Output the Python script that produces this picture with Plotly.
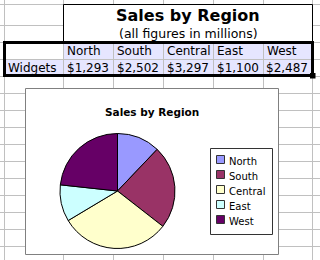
import plotly.graph_objects as go

# ---- data ----
regions = ["North", "South", "Central", "East", "West"]
sales = [1293, 2502, 3297, 1100, 2487]
row_label = "Widgets"
sheet_title = "Sales by Region"
sheet_subtitle = "(all figures in millions)"
chart_title = "Sales by Region"
colors = ["#9999FF", "#993366", "#FFFFCC", "#CCFFFF", "#660066"]

W, H = 320, 260
FONT = "DejaVu Sans"
GRID = "#C0C0C0"
LAV = "#E6E6FF"


def X(p):
    return p / W


def Y(p):
    return 1 - p / H


shapes = []


def line(x0, y0, x1, y1, color=GRID, width=1):
    shapes.append(dict(type="line", xref="paper", yref="paper",
                       x0=X(x0), y0=Y(y0), x1=X(x1), y1=Y(y1),
                       line=dict(color=color, width=width), layer="below"))


def rect(x0, y0, x1, y1, fill=None, color=None, width=0):
    d = dict(type="rect", xref="paper", yref="paper",
             x0=X(x0), y0=Y(y0), x1=X(x1), y1=Y(y1), layer="below",
             line=dict(width=width, color=color or "rgba(0,0,0,0)"))
    if fill:
        d["fillcolor"] = fill
    shapes.append(d)


col_edges = [4, 63, 113, 163, 213, 263, 312]
row_edges = [4, 25] + list(range(42, 262, 17))

# spreadsheet gridlines
for c in col_edges:
    line(c + 0.5, 0, c + 0.5, H)
for r in row_edges:
    line(0, r + 0.5, W, r + 0.5)

# merged title block
rect(64, 5, 312, 42, fill="white")
line(63.5, 4.5, 312.5, 4.5, "black")
line(63.5, 4.5, 63.5, 42.5, "black")
line(312.5, 4.5, 312.5, 42.5, "black")

# table fills
rect(63.5, 42.5, 312.5, 59.5, fill=LAV)
rect(4.5, 59.5, 312.5, 75.5, fill=LAV)
for c in col_edges[1:-1]:
    line(c + 0.5, 42.5, c + 0.5, 75.5)
line(4.5, 59.5, 312.5, 59.5)
# thick border
rect(4.5, 42.5, 312.5, 75.5, color="black", width=3)
rect(310, 73, 315.5, 78.5, fill="black")

# chart object
cx0, cy0, cx1, cy1 = 25.5, 88.5, 278.5, 254.5
rect(cx0, cy0, cx1, cy1, fill="white", color="#808080", width=1)

# legend box
lx0, ly0, lx1, ly1 = 210.5, 148.5, 272.5, 234.5
rect(lx0, ly0, lx1, ly1, fill="white", color="#333333", width=1)
for i, col in enumerate(colors):
    yc = 159.5 + 15 * i
    rect(216.5, yc - 4, 224.5, yc + 4, fill=col, color="#333333", width=1)

annotations = []


def text(x, y, s, size=12, anchor="left", bold=False):
    annotations.append(dict(
        x=X(x), y=Y(y), xref="paper", yref="paper", text=(f"<b>{s}</b>" if bold else s),
        showarrow=False, xanchor=anchor, yanchor="middle",
        font=dict(family=FONT, size=size, color="black"), borderpad=0))


text(188, 15, sheet_title, 16, "center", True)
text(188, 34, sheet_subtitle, 12.5, "center")
for i, reg in enumerate(regions):
    text(col_edges[i + 1] + 3, 51, reg, 12, "left")
    text(col_edges[i + 2] - 3, 68, f"${sales[i]:,}", 12, "right")
text(7, 68, row_label, 12, "left")

text((cx0 + cx1) / 2, 111.5, chart_title, 10.5, "center", True)
for i, reg in enumerate(regions):
    text(228, 161 + 15 * i, reg, 10, "left")

# pie
pcx, pcy, pr = 117.5, 191, 57.5
fig = go.Figure(go.Pie(
    labels=regions, values=sales, sort=False, direction="clockwise", rotation=0,
    marker=dict(colors=colors, line=dict(color="black", width=1)),
    textinfo="none", hoverinfo="none", showlegend=False,
    domain=dict(x=[X(pcx - pr), X(pcx + pr)], y=[Y(pcy + pr), Y(pcy - pr)]),
))

fig.update_layout(
    width=W, height=H, autosize=False,
    margin=dict(l=0, r=0, t=0, b=0, pad=0),
    paper_bgcolor="white", plot_bgcolor="white",
    showlegend=False, shapes=shapes, annotations=annotations,
)
fig.write_html("out.html", config={"displayModeBar": False})
